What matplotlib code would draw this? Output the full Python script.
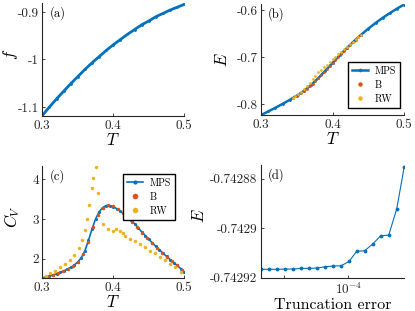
import numpy as np
import matplotlib
matplotlib.use('Agg')
from matplotlib import pyplot as plt
from matplotlib.ticker import NullLocator

plt.rcParams['font.family'] = 'cmr10'
plt.rcParams['mathtext.fontset'] = 'cm'
plt.rcParams['axes.unicode_minus'] = False
plt.rcParams['axes.formatter.use_mathtext'] = True

blue = '#0072BD'
orange = '#D95319'
yellow = '#EDB120'

# (a) free energy, MPS
T_a = [0.30, 0.31, 0.32, 0.33, 0.34, 0.35, 0.36, 0.37, 0.38, 0.39, 0.40,
       0.41, 0.42, 0.43, 0.44, 0.45, 0.46, 0.47, 0.48, 0.49, 0.50]
f_mps = [-1.118, -1.100, -1.083, -1.067, -1.051, -1.036, -1.021, -1.007, -0.994, -0.981, -0.969,
         -0.958, -0.947, -0.937, -0.927, -0.919, -0.910, -0.903, -0.896, -0.890, -0.884]

# (b) energy
T_b = T_a
E_mps = [-0.8227, -0.8151, -0.8072, -0.7991, -0.7905, -0.7814, -0.7712, -0.7589, -0.7443, -0.7282, -0.7118,
         -0.6957, -0.6802, -0.6656, -0.6519, -0.6391, -0.6272, -0.6162, -0.6061, -0.5966, -0.5880]
T_b_pts = [0.344, 0.348, 0.352, 0.356, 0.360, 0.364, 0.368, 0.372, 0.376, 0.380, 0.384, 0.388, 0.392,
           0.396, 0.400, 0.404, 0.408, 0.412, 0.416, 0.420, 0.424, 0.428, 0.432, 0.436, 0.440]
E_B = [-0.7869, -0.7832, -0.7794, -0.7753, -0.7712, -0.7663, -0.7614, -0.7560, -0.7501, -0.7443, -0.7379,
       -0.7314, -0.7249, -0.7184, -0.7118, -0.7054, -0.6989, -0.6926, -0.6864, -0.6802, -0.6744, -0.6685,
       -0.6629, -0.6574, -0.6519]
E_RW = [-0.7869, -0.7827, -0.7784, -0.7733, -0.7682, -0.7618, -0.7549, -0.7470, -0.7391, -0.7323, -0.7264,
        -0.7209, -0.7154, -0.7099, -0.7043, -0.6989, -0.6934, -0.6881, -0.6829, -0.6777, -0.6726, -0.6673,
        -0.6622, -0.6571, -0.6519]

# (c) specific heat
T_c = [0.300, 0.305, 0.310, 0.315, 0.320, 0.325, 0.330, 0.335, 0.340, 0.345, 0.350, 0.355, 0.360, 0.365,
       0.370, 0.375, 0.380, 0.385, 0.390, 0.395, 0.400, 0.405, 0.410, 0.415, 0.420, 0.425, 0.430, 0.435,
       0.440, 0.445, 0.450, 0.455, 0.460, 0.465, 0.470, 0.475, 0.480, 0.485, 0.490, 0.495, 0.500]
C_mps = [1.52, 1.54, 1.56, 1.59, 1.62, 1.655, 1.69, 1.735, 1.78, 1.84, 1.92, 2.03, 2.20, 2.46,
         2.75, 3.00, 3.18, 3.29, 3.34, 3.34, 3.31, 3.26, 3.20, 3.13, 3.05, 2.97, 2.88, 2.78,
         2.68, 2.585, 2.49, 2.40, 2.31, 2.225, 2.14, 2.06, 1.98, 1.905, 1.83, 1.75, 1.67]
T_c_B = [0.301, 0.308, 0.315, 0.322, 0.329, 0.336, 0.343, 0.350, 0.357, 0.364, 0.371, 0.378, 0.385, 0.392,
         0.399, 0.406, 0.413, 0.420, 0.427, 0.434, 0.441, 0.448, 0.455, 0.462, 0.469, 0.476, 0.483, 0.490, 0.497]
C_B = [1.524, 1.552, 1.59, 1.634, 1.683, 1.744, 1.822, 1.92, 2.116, 2.42, 2.793, 3.094, 3.27, 3.36,
       3.33, 3.25, 3.155, 3.05, 2.931, 2.80, 2.661, 2.528, 2.40, 2.276, 2.157, 2.044, 1.935, 1.83, 1.718]
T_c_RW = [0.305, 0.311, 0.318, 0.325, 0.332, 0.339, 0.345, 0.352, 0.356, 0.360, 0.363, 0.366, 0.370, 0.372,
          0.376, 0.379, 0.386, 0.393, 0.400, 0.404, 0.409, 0.413, 0.417, 0.424, 0.431, 0.438, 0.445, 0.452,
          0.459, 0.466, 0.473, 0.480, 0.487, 0.496]
C_RW = [1.56, 1.63, 1.70, 1.78, 1.88, 1.98, 2.09, 2.26, 2.47, 2.72, 3.00, 3.35, 3.77, 4.03,
        4.32, 3.65, 2.87, 2.74, 2.70, 2.74, 2.70, 2.65, 2.57, 2.51, 2.45, 2.37, 2.29, 2.20,
        2.14, 2.05, 1.97, 1.88, 1.80, 1.67]

# (d) energy vs truncation error
trunc_err = [3.90e-5, 4.25e-5, 4.64e-5, 5.06e-5, 5.51e-5, 6.01e-5, 6.56e-5, 7.15e-5, 7.80e-5, 8.51e-5,
             9.27e-5, 1.01e-4, 1.094e-4, 1.193e-4, 1.301e-4, 1.419e-4, 1.548e-4, 1.687e-4, 1.83e-4]
E_trunc = [-0.74291662, -0.74291662, -0.74291662, -0.7429165, -0.7429165, -0.74291622, -0.74291622,
           -0.7429161, -0.74291557, -0.74291529, -0.74291517, -0.7429134, -0.74290938, -0.74290913,
           -0.74290644, -0.7429031, -0.74290282, -0.74289235, -0.74287533]

fig = plt.figure(figsize=(4.15, 3.11), dpi=100)
ax_a = fig.add_axes([0.102, 0.627, 0.342, 0.362])
ax_b = fig.add_axes([0.629, 0.630, 0.345, 0.357])
ax_c = fig.add_axes([0.102, 0.105, 0.342, 0.361])
ax_d = fig.add_axes([0.629, 0.107, 0.345, 0.362])


def style(ax, lab):
    for s in ['top', 'right']:
        ax.spines[s].set_visible(False)
    for s in ['left', 'bottom']:
        ax.spines[s].set_color('#262626')
        ax.spines[s].set_linewidth(0.8)
    ax.tick_params(direction='in', length=2.5, width=0.6, labelsize=9.5, colors='#262626', pad=2.5)
    ax.text(0.05, 0.975, lab, transform=ax.transAxes, va='top', ha='left', fontsize=9)


def legend(ax, loc, anchor):
    leg = ax.legend(loc=loc, fontsize=7.2, numpoints=1, handlelength=1.6, markerscale=1.6,
                    fancybox=False, framealpha=1, edgecolor='black', borderpad=0.45, labelspacing=0.45,
                    handletextpad=0.6, borderaxespad=0, bbox_to_anchor=anchor)
    leg.get_frame().set_linewidth(1.0)


# (a)
ax_a.plot(T_a, f_mps, '.-', color=blue, lw=2.0, ms=2)
ax_a.set_xlim(0.3, 0.5)
ax_a.set_ylim(-1.119, -0.882)
ax_a.set_xticks([0.3, 0.4, 0.5], ['0.3', '0.4', '0.5'])
ax_a.set_yticks([-1.1, -1.0, -0.9], ['-1.1', '-1', '-0.9'])
ax_a.set_xlabel('$T$', fontsize=12, labelpad=0)
ax_a.set_ylabel('$f$', fontsize=12)
ax_a.yaxis.set_label_coords(-0.16, 0.55)
style(ax_a, '(a)')

# (b)
ax_b.plot(T_b, E_mps, '.-', color=blue, lw=1.8, ms=2, label='MPS')
ax_b.plot(T_b_pts, E_B, 'o', color=orange, ms=2, mew=0, label='B')
ax_b.plot(T_b_pts, E_RW, 'o', color=yellow, ms=2, mew=0, label='RW')
ax_b.set_xlim(0.3, 0.5)
ax_b.set_ylim(-0.8227, -0.587)
ax_b.set_xticks([0.3, 0.4, 0.5], ['0.3', '0.4', '0.5'])
ax_b.set_yticks([-0.8, -0.7, -0.6], ['-0.8', '-0.7', '-0.6'])
ax_b.set_xlabel('$T$', fontsize=12, labelpad=0)
ax_b.set_ylabel('$E$', fontsize=12)
ax_b.yaxis.set_label_coords(-0.22, 0.5)
style(ax_b, '(b)')
legend(ax_b, 'lower right', (0.97, 0.06))

# (c)
ax_c.plot(T_c, C_mps, '.-', color=blue, lw=1.2, ms=2.5, label='MPS')
ax_c.plot(T_c_B, C_B, 'o', color=orange, ms=2.5, mew=0, label='B')
ax_c.plot(T_c_RW, C_RW, 'o', color=yellow, ms=2.5, mew=0, label='RW')
ax_c.set_xlim(0.3, 0.5)
ax_c.set_ylim(1.506, 4.335)
ax_c.set_xticks([0.3, 0.4, 0.5], ['0.3', '0.4', '0.5'])
ax_c.set_yticks([2, 3, 4], ['2', '3', '4'])
ax_c.set_xlabel('$T$', fontsize=12, labelpad=0)
ax_c.set_ylabel('$C_V$', fontsize=12)
ax_c.yaxis.set_label_coords(-0.14, 0.55)
style(ax_c, '(c)')
legend(ax_c, 'upper right', (0.935, 0.93))

# (d)
ax_d.plot(trunc_err, E_trunc, '.-', color=blue, lw=0.8, ms=3.5)
ax_d.set_xscale('log')
ax_d.set_xlim(3.9e-5, 1.83e-4)
ax_d.set_xticks([5e-5, 1e-4], ['', '$10^{-4}$'])
ax_d.xaxis.set_minor_locator(NullLocator())
ax_d.set_ylim(-0.74292, -0.7428746)
ax_d.set_yticks([-0.74292, -0.7429, -0.74288], ['-0.74292', '-0.7429', '-0.74288'])
ax_d.set_xlabel('Truncation error', fontsize=11.5, labelpad=1)
ax_d.set_ylabel('$E$', fontsize=12)
ax_d.yaxis.set_label_coords(-0.38, 0.55)
style(ax_d, '(d)')

fig.savefig('out.png', dpi=100)
